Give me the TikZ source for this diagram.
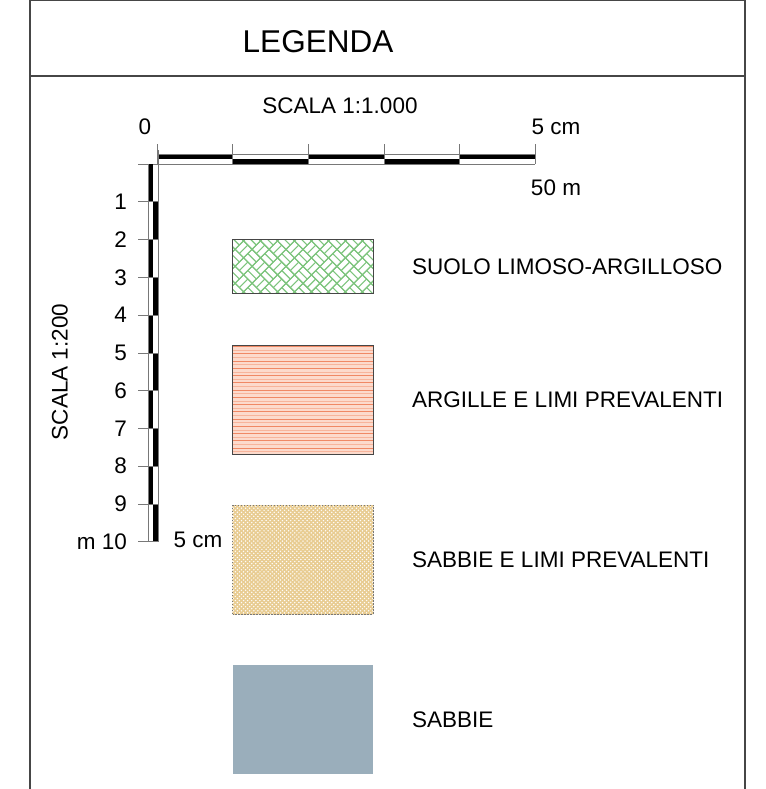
\documentclass[tikz,border=0pt]{standalone}
\usepackage{fontspec}
\setmainfont{Liberation Sans}
\usetikzlibrary{positioning}
\definecolor{framegray}{RGB}{70, 70, 70}
\definecolor{rulegray}{RGB}{120, 120, 120}
\definecolor{soilgreen}{RGB}{125, 196, 125}
\definecolor{claypink}{RGB}{252, 218, 204}
\definecolor{clayorange}{RGB}{240, 136, 100}
\definecolor{claylight}{RGB}{247, 180, 155}
\definecolor{sandtan}{RGB}{232, 204, 146}
\definecolor{sandblue}{RGB}{154, 174, 187}
\newcommand{\barstep}{75.6}
\newcommand{\depthstep}{37.77}

\begin{document}
\begin{tikzpicture}[
    x=1pt, y=-1pt,
    % Define Styles for Consistency
    frame/.style={draw=framegray, line width=1.2pt},
    thinrule/.style={draw=rulegray, line width=0.6pt},
    swatch/.style={
        rectangle, minimum width=140.6pt, inner sep=0pt, outer sep=0pt
    },
    swatchedge/.style={draw=framegray, line width=0.8pt},
    scaletext/.style={font=\fontsize{22.5}{27}\selectfont, inner sep=0pt},
    legendtext/.style={font=\fontsize{22.5}{27}\selectfont, inner sep=0pt, anchor=west}
]

    \useasboundingbox (0,0) rectangle (765,789);

    % --- 1. Frame and Title ---

    \draw[frame] (30,789) -- (30,0.6) -- (745,0.6) -- (745,789);
    \draw[frame] (30,76) -- (745,76);
    \node[font=\fontsize{31.5}{36}\selectfont] (title) at (318,42) {LEGENDA};

    % --- 2. Horizontal Scale Bar (1:1.000) ---

    \foreach \i in {0,...,4} {
        \pgfmathsetmacro{\xa}{157+\barstep*\i}
        \pgfmathsetmacro{\xb}{157+\barstep*(\i+1)}
        \ifodd\i\relax
            \fill (\xa,159) rectangle (\xb,164);
        \else
            \fill (\xa,154) rectangle (\xb,159);
        \fi
    }
    \draw[thinrule] (157,154) -- (535,154);
    \draw[thinrule] (138,164) -- (535,164);
    \foreach \i in {0,...,5}
        \draw[thinrule] ({157+\barstep*\i},144) -- ({157+\barstep*\i},164);

    \node[scaletext] (hscale) at (340,106) {SCALA 1:1.000};
    \node[scaletext] (zero) at (145,127) {0};
    \node[scaletext] (hlen) at (556,127) {5 cm};
    \node[scaletext] (hdist) at (556,188) {50 m};

    % --- 3. Vertical Scale Bar (1:200) ---

    \foreach \j in {0,...,9} {
        \pgfmathsetmacro{\ya}{164+\depthstep*\j}
        \pgfmathsetmacro{\yb}{164+\depthstep*(\j+1)}
        \ifodd\j\relax
            \fill (153,\ya) rectangle (158,\yb);
        \else
            \fill (148,\ya) rectangle (153,\yb);
        \fi
    }
    \draw[thinrule] (148,164) -- (148,541.7);
    \draw[thinrule] (158,150) -- (158,541.7);
    \foreach \j in {1,...,10}
        \draw[thinrule] (138,{164+\depthstep*\j}) -- (158,{164+\depthstep*\j});

    \foreach \j in {1,...,9}
        \node[scaletext, anchor=east] (depth\j) at (127,{164+\depthstep*\j}) {\j};
    \node[scaletext, anchor=east] (depth10) at (127,541.7) {m 10};
    \node[scaletext, rotate=90] (vscale) at (60,372) {SCALA 1:200};
    \node[scaletext] (vlen) at (198,540) {5 cm};

    % --- 4. Legend Swatches ---

    \node[swatch, minimum height=54pt] (soil) at (303,266.3) {};
    \node[swatch, minimum height=109pt, fill=claypink] (clay) at (303,399.5) {};
    \node[swatch, minimum height=109pt] (sandsilt) at (303,559.5) {};
    \node[swatch, minimum height=109pt, fill=sandblue] (sand) at (303,719.5) {};

    % basket weave
    \begin{scope}
        \clip (soil.south west) rectangle (soil.north east);
        \begin{scope}[shift={(soil.center)}, rotate=45, soilgreen, line width=1.1pt]
            \foreach \i in {-7,...,6} {
                \foreach \j in {-7,...,6} {
                    \pgfmathtruncatemacro{\weave}{mod(\i+\j+20,2)}
                    \draw (\i*12,\j*12) rectangle ++(12,12);
                    \ifnum\weave=0
                        \draw (\i*12,\j*12+6) -- ++(12,0);
                    \else
                        \draw (\i*12+6,\j*12) -- ++(0,12);
                    \fi
                }
            }
        \end{scope}
    \end{scope}
    \draw[swatchedge] (soil.south west) rectangle (soil.north east);

    % horizontal lines
    \begin{scope}
        \clip (clay.south west) rectangle (clay.north east);
        \foreach \k in {0,...,30} {
            \pgfmathsetmacro{\yk}{346.5+3.63*\k}
            \ifodd\k\relax
                \draw[claylight, line width=0.8pt] (232,\yk) -- (374,\yk);
            \else
                \draw[clayorange, line width=0.8pt] (232,\yk) -- (374,\yk);
            \fi
        }
    \end{scope}
    \draw[swatchedge] (clay.south west) rectangle (clay.north east);

    % crosshatch
    \begin{scope}
        \clip (sandsilt.south west) rectangle (sandsilt.north east);
        \begin{scope}[shift={(sandsilt.center)}, rotate=45, sandtan, line width=1.5pt]
            \foreach \k in {-34,...,34} {
                \draw (\k*2.9,-100) -- (\k*2.9,100);
                \draw (-100,\k*2.9) -- (100,\k*2.9);
            }
        \end{scope}
    \end{scope}
    \draw[draw=rulegray, line width=0.8pt, dash pattern=on 1.5pt off 1.5pt]
        (sandsilt.south west) rectangle (sandsilt.north east);

    % --- 5. Legend Labels ---

    \node[legendtext, right=38.7pt of soil] (soillabel) {SUOLO LIMOSO-ARGILLOSO};
    \node[legendtext, right=38.7pt of clay] (claylabel) {ARGILLE E LIMI PREVALENTI};
    \node[legendtext, right=38.7pt of sandsilt] (sandsiltlabel) {SABBIE E LIMI PREVALENTI};
    \node[legendtext, right=38.7pt of sand] (sandlabel) {SABBIE};

\end{tikzpicture}
\end{document}
